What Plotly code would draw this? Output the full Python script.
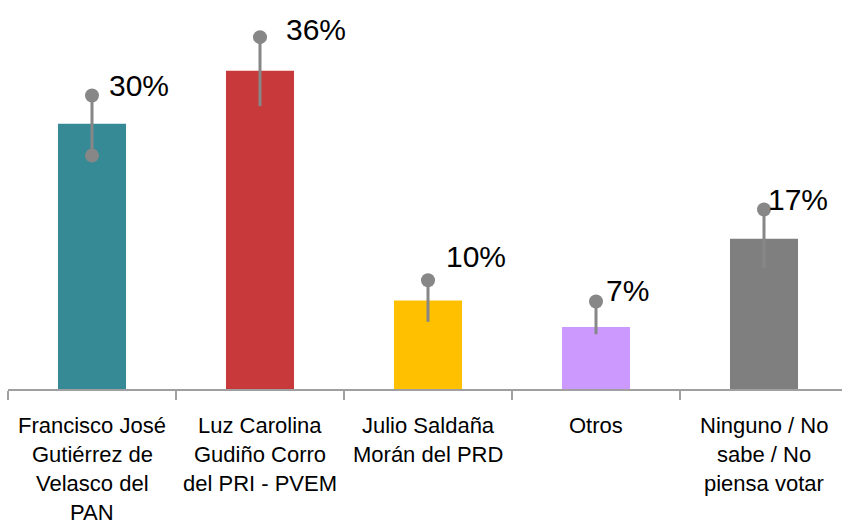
import plotly.graph_objects as go

# ---- data ----
categories = ["Francisco José Gutiérrez de Velasco del PAN",
              "Luz Carolina Gudiño Corro del PRI - PVEM",
              "Julio Saldaña Morán del PRD",
              "Otros",
              "Ninguno / No sabe / No piensa votar"]
tick_lines = [["Francisco José", "Gutiérrez de", "Velasco del", "PAN"],
              ["Luz Carolina", "Gudiño Corro", "del PRI - PVEM"],
              ["Julio Saldaña", "Morán del PRD"],
              ["Otros"],
              ["Ninguno / No", "sabe / No", "piensa votar"]]
values = [30, 36, 10, 7, 17]
value_labels = ["30%", "36%", "10%", "7%", "17%"]
err_plus = [3.2, 3.8, 2.3, 2.9, 3.3]
err_minus = [3.6, 4.0, 2.4, 0.8, 3.3]
lower_dot = [True, False, False, False, False]

# ---- style ----
bar_colors = ["#368A95", "#C8393C", "#FFC000", "#CC99FF", "#7F7F7F"]
whisker_color = "#878787"
FONT = "Liberation Sans, Arial, sans-serif"
label_xshift = [15, 24, 16, 8, 2]
label_yshift = [10, 8, 24, 11, 10]
line_step = 29
first_line_offset = 36

x = list(range(len(categories)))

fig = go.Figure()
fig.add_trace(go.Bar(
    x=x, y=values, width=0.405,
    marker=dict(color=bar_colors, line=dict(width=0)),
    error_y=dict(type="data", symmetric=False, array=err_plus, arrayminus=err_minus,
                 color=whisker_color, thickness=3, width=0),
    hoverinfo="skip", showlegend=False,
))
tops = [v + e for v, e in zip(values, err_plus)]
fig.add_trace(go.Scatter(
    x=x, y=tops, mode="markers",
    marker=dict(size=14, color=whisker_color),
    cliponaxis=False, showlegend=False, hoverinfo="skip",
))
lx = [i for i, f in zip(x, lower_dot) if f]
ly = [v - e for v, e, f in zip(values, err_minus, lower_dot) if f]
fig.add_trace(go.Scatter(
    x=lx, y=ly, mode="markers",
    marker=dict(size=14, color=whisker_color),
    cliponaxis=False, showlegend=False, hoverinfo="skip",
))

annotations = []
for i, (t, lab) in enumerate(zip(tops, value_labels)):
    annotations.append(dict(
        x=i, y=t, xref="x", yref="y", text=lab, showarrow=False,
        xanchor="left", yanchor="middle",
        xshift=label_xshift[i], yshift=label_yshift[i],
        font=dict(family=FONT, size=30, color="#000000"),
    ))
for i, lines in enumerate(tick_lines):
    for k, line in enumerate(lines):
        annotations.append(dict(
            x=i, y=0, xref="x", yref="paper", text=line, showarrow=False,
            xanchor="center", yanchor="middle",
            yshift=-(first_line_offset + k * line_step),
            font=dict(family=FONT, size=22, color="#000000"),
        ))

fig.update_layout(
    width=842, height=528,
    margin=dict(l=8, r=0, t=0, b=139),
    paper_bgcolor="white", plot_bgcolor="white",
    annotations=annotations,
    xaxis=dict(type="linear", range=[-0.5, -0.5 + 834 / 168],
               showgrid=False, zeroline=False,
               showline=True, linecolor="#A0A0A0", linewidth=2,
               ticks="outside", ticklen=9, tickwidth=1.5, tickcolor="#A0A0A0",
               tickmode="array", tickvals=[i - 0.5 for i in range(len(categories))],
               showticklabels=False, fixedrange=True),
    yaxis=dict(range=[0, 389 / 8.84], visible=False, fixedrange=True),
)

fig.write_html("out.html", config={"displayModeBar": False, "staticPlot": True},
               post_script="document.body.style.margin='0px';")
